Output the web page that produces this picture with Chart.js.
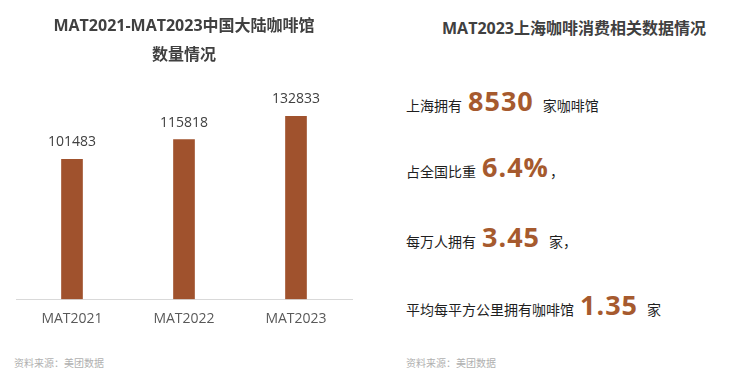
<!DOCTYPE html>
<html>
<head>
<meta charset="utf-8">
<script src="https://cdn.jsdelivr.net/npm/chart.js@4"></script>
<style>
  body { margin: 0; background: #fff; width: 734px; height: 373px; overflow: hidden; position: relative;
         font-family: "Open Sans", "Noto Sans CJK SC", sans-serif; }
  #left { position: absolute; left: 0; top: 0; width: 367px; height: 340px; }
  .src { position: absolute; font-size: 10px; color: #b0b0b0; font-family: "Noto Sans CJK SC", sans-serif; }
  .rtitle { position: absolute; left: 380px; width: 354px; top: 15px; text-align: center; padding-left: 34px; box-sizing: border-box;
            font-size: 16px; font-weight: bold; color: #404040; }
  .line { position: absolute; left: 406px; display: flex; align-items: baseline; color: #1f1f1f; font-size: 14px; white-space: nowrap; }
  .line .cn { font-family: "Noto Sans CJK SC", sans-serif; }
  .line .num { font-family: "Open Sans", sans-serif; font-size: 27px; font-weight: bold; color: #A65A2E; margin: 0 0 0 6px; letter-spacing: 1px; }
</style>
</head>
<body>
<div id="left"><canvas id="chartCount"></canvas></div>
<div class="src" style="left:14px; top:355px;">资料来源：美团数据</div>

<div class="rtitle">MAT2023上海咖啡消费相关数据情况</div>
<div id="facts"></div>
<div class="src" style="left:406px; top:355px;">资料来源：美团数据</div>

<script>
// 左图：中国大陆咖啡馆数量
const years = ["MAT2021", "MAT2022", "MAT2023"];
const storeCounts = [101483, 115818, 132833];

// 右侧：上海相关数据
const factPrefix = ["上海拥有", "占全国比重", "每万人拥有", "平均每平方公里拥有咖啡馆"];
const factValues = ["8530", "6.4%", "3.45", "1.35"];
const factSuffix = ["家咖啡馆", "，", "家，", "家"];
const suffixGap = [9, 1, 9, 9];
const factTops = [82, 148, 218, 286];

const fontFamily = '"Open Sans", "Noto Sans CJK SC", sans-serif';

// 柱顶数值
const valueLabels = {
  id: "valueLabels",
  afterDatasetsDraw(chart) {
    const ctx = chart.ctx;
    const meta = chart.getDatasetMeta(0);
    ctx.save();
    ctx.font = "14px " + fontFamily;
    ctx.fillStyle = "#404040";
    ctx.textAlign = "center";
    ctx.textBaseline = "bottom";
    meta.data.forEach((bar, i) => {
      ctx.fillText(storeCounts[i], bar.x, bar.y - 10);
    });
    ctx.restore();
  }
};

const ctx = document.getElementById("chartCount").getContext("2d");
new Chart(ctx, {
  type: "bar",
  data: {
    labels: years,
    datasets: [{
      data: storeCounts,
      backgroundColor: "#A0522D",
      barThickness: 21
    }]
  },
  options: {
    responsive: true,
    maintainAspectRatio: false,
    animation: false,
    layout: { padding: { left: 16, right: 15, top: 0, bottom: 10 } },
    scales: {
      y: { display: false, min: 0, max: 158000 },
      x: {
        grid: { display: false },
        border: { color: "#d9d9d9", width: 1 },
        ticks: { color: "#595959", font: { size: 14, family: fontFamily }, padding: 3 }
      }
    },
    plugins: {
      legend: { display: false },
      tooltip: { enabled: false },
      title: {
        display: true,
        text: ["MAT2021-MAT2023中国大陆咖啡馆", "数量情况"],
        color: "#404040",
        font: { size: 16, weight: "bold", family: fontFamily, lineHeight: 1.8 },
        padding: { top: 12, bottom: 12 }
      }
    }
  },
  plugins: [valueLabels]
});

// 右侧文字
const facts = document.getElementById("facts");
factPrefix.forEach((p, i) => {
  const div = document.createElement("div");
  div.className = "line";
  div.style.top = factTops[i] + "px";
  div.innerHTML = `<span class="cn">${p}</span><span class="num">${factValues[i]}</span>` +
    `<span class="cn" style="margin-left:${suffixGap[i]}px">${factSuffix[i]}</span>`;
  facts.appendChild(div);
});
</script>
</body>
</html>
